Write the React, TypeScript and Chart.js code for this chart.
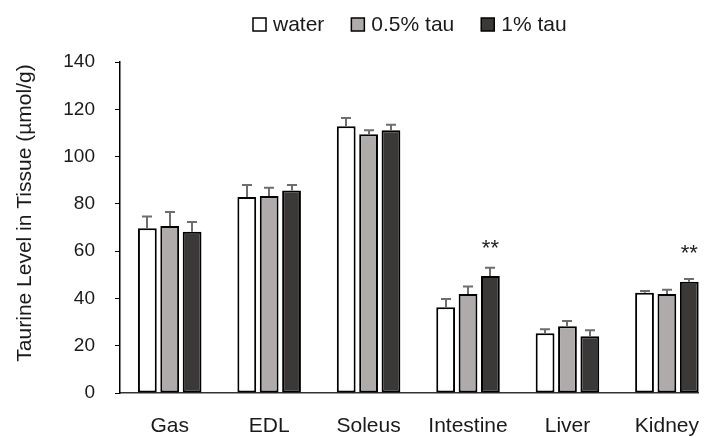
import React, { useEffect, useRef } from "react";
import { Chart, registerables } from "chart.js";

Chart.register(...registerables);

// ---- data ----
const categories = ["Gas", "EDL", "Soleus", "Intestine", "Liver", "Kidney"];
const seriesNames = ["water", "0.5% tau", "1% tau"];
const waterValues = [69.7, 82.9, 112.8, 36.3, 25.3, 42.4];
const waterErrors = [4.9, 5.1, 3.5, 3.5, 1.7, 0.7];
const tau05Values = [70.6, 83.3, 109.4, 41.9, 28.2, 41.9];
const tau05Errors = [6.0, 3.5, 1.7, 3.1, 2.3, 1.8];
const tau1Values = [68.2, 85.7, 111.1, 49.5, 24.0, 47.1];
const tau1Errors = [4.1, 2.3, 2.4, 3.5, 2.5, 1.1];
const tau1Marks = ["", "", "", "**", "", "**"];
const tau1MarkLevels = [0, 0, 0, 63.5, 0, 61.5];
const yMin = 0;
const yMax = 140;
const yStep = 20;
const yTitle = "Taurine Level in Tissue (\u00b5mol/g)";

// ---- styles ----
const FONT = "'Liberation Sans', Arial, Helvetica, sans-serif";
const TEXT = "#1a1a1a";
const fills = ["#ffffff", "#afabab", "#3b3838"];
const errorsBySeries = [waterErrors, tau05Errors, tau1Errors];
const marksBySeries = [null, null, tau1Marks];
const markLevelsBySeries = [null, null, tau1MarkLevels];

const errorBarPlugin = {
  id: "errorBars",
  afterDatasetsDraw(chart: any) {
    const ctx = chart.ctx;
    const y = chart.scales.y;
    ctx.save();
    ctx.strokeStyle = "#6e6e6e";
    ctx.lineWidth = 2;
    chart.data.datasets.forEach((ds: any, i: number) => {
      const meta = chart.getDatasetMeta(i);
      const errs = errorsBySeries[i];
      meta.data.forEach((bar: any, j: number) => {
        const v = ds.data[j];
        const top = y.getPixelForValue(v + errs[j]);
        const x = Math.round(bar.x);
        ctx.beginPath();
        ctx.moveTo(x, bar.y);
        ctx.lineTo(x, top);
        ctx.moveTo(x - 5, top);
        ctx.lineTo(x + 5, top);
        ctx.stroke();
        const marks = marksBySeries[i];
        const levels = markLevelsBySeries[i];
        if (marks && levels && marks[j]) {
          ctx.fillStyle = "#222";
          ctx.font = `22px ${FONT}`;
          ctx.textAlign = "center";
          ctx.textBaseline = "alphabetic";
          ctx.fillText(marks[j], bar.x, y.getPixelForValue(levels[j]) + 12.5);
        }
      });
    });
    ctx.restore();
  },
};

const legendTitlePlugin = {
  id: "customLegendTitle",
  afterDraw(chart: any) {
    const ctx = chart.ctx;
    ctx.save();
    // legend
    ctx.font = `21px ${FONT}`;
    ctx.textBaseline = "middle";
    ctx.textAlign = "left";
    let x = 245;
    const cy = 16.5;
    const box = 13;
    seriesNames.forEach((name, i) => {
      ctx.fillStyle = fills[i];
      ctx.fillRect(x, cy - box / 2, box, box);
      ctx.strokeStyle = "#000";
      ctx.lineWidth = 1.5;
      ctx.strokeRect(x, cy - box / 2, box, box);
      ctx.fillStyle = TEXT;
      ctx.fillText(name, x + box + 7, cy + 1);
      x += box + 7 + ctx.measureText(name).width + 27;
    });
    // y axis title
    ctx.translate(17, 205);
    ctx.rotate(-Math.PI / 2);
    ctx.font = `21px ${FONT}`;
    ctx.textAlign = "center";
    ctx.textBaseline = "middle";
    ctx.fillStyle = TEXT;
    ctx.fillText(yTitle, 0, 0);
    ctx.restore();
  },
};

export default function App() {
  const ref = useRef<HTMLCanvasElement | null>(null);

  useEffect(() => {
    if (!ref.current) return;
    const datasets = [waterValues, tau05Values, tau1Values].map((vals, i) => ({
      label: seriesNames[i],
      data: vals,
      backgroundColor: fills[i],
      borderColor: "#000",
      borderWidth: 2,
      borderSkipped: false,
      categoryPercentage: 0.675,
      barPercentage: 0.84,
    }));
    const chart = new Chart(ref.current, {
      type: "bar",
      data: { labels: categories, datasets },
      options: {
        animation: false,
        responsive: false,
        devicePixelRatio: 1,
        layout: { padding: { top: 54, left: 0, right: 0, bottom: 0 } },
        plugins: {
          legend: { display: false },
          tooltip: { enabled: false },
          title: { display: false },
        },
        scales: {
          x: {
            grid: { display: false, drawTicks: false },
            border: { display: true, color: "#333", width: 1.5 },
            ticks: {
              color: TEXT,
              font: { family: FONT, size: 21 },
              padding: 21,
              maxRotation: 0,
              autoSkip: false,
            },
            afterFit(scale: any) {
              scale.height = 44;
            },
          },
          y: {
            min: yMin,
            max: yMax,
            ticks: {
              stepSize: yStep,
              color: TEXT,
              font: { family: FONT, size: 19 },
              padding: 20,
            },
            grid: {
              display: true,
              drawOnChartArea: false,
              drawTicks: true,
              tickLength: 5,
              color: "#000",
              lineWidth: 1,
            },
            border: { display: true, color: "#000", width: 1.5 },
            afterFit(scale: any) {
              scale.width = 112;
            },
          },
        },
      },
      plugins: [errorBarPlugin, legendTitlePlugin],
    });
    return () => chart.destroy();
  }, []);

  return (
    <div style={{ width: 699, height: 429, overflow: "hidden" }}>
      <canvas
        ref={ref}
        width={712}
        height={429}
        style={{ width: "712px", height: "429px", display: "block" }}
      />
    </div>
  );
}
